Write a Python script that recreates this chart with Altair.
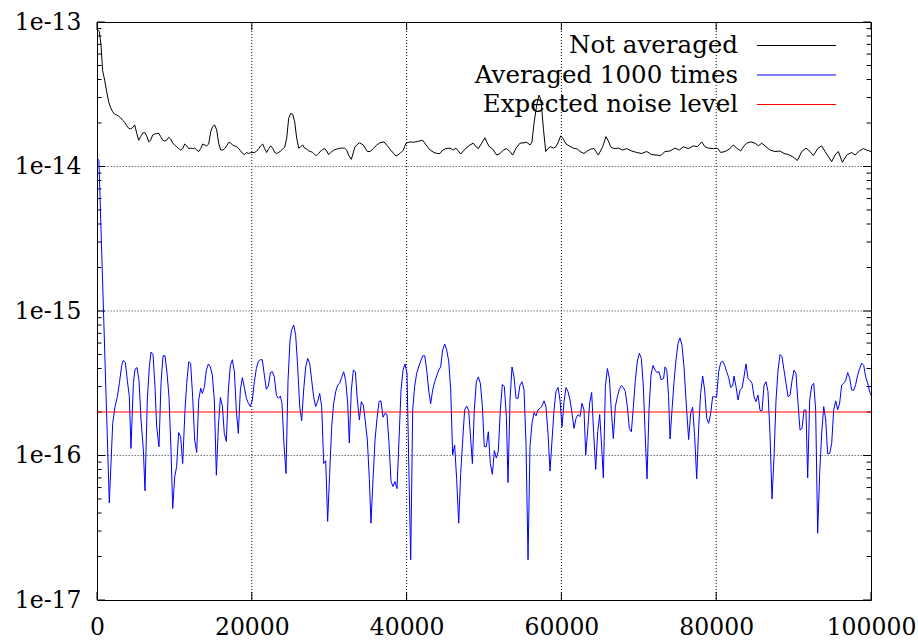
import altair as alt
import pandas as pd

# ---------------- data ----------------
X_BLUE = [
    0, 250, 1590, 2030, 2330, 2630, 2890, 3190, 3400, 3660,
    3920, 4180, 4390, 4700, 4910, 5170, 5430, 5690, 5990, 6200,
    6500, 6760, 6980, 7240, 7490, 7710, 8010, 8270, 8530, 8790,
    9050, 9300, 9560, 9780, 10040, 10290, 10550, 10810, 11070, 11370,
    11590, 11850, 12100, 12360, 12620, 12880, 13140, 13400, 13610, 13870,
    14130, 14390, 14640, 14900, 15160, 15420, 15680, 15940, 16200, 16450,
    16710, 16970, 17230, 17490, 17750, 18000, 18260, 18520, 18780, 19040,
    19300, 19550, 19810, 20070, 20330, 20590, 20850, 21100, 21360, 21620,
    21880, 22140, 22400, 22660, 22910, 23170, 23430, 23690, 23900, 24160,
    24420, 24680, 24940, 25150, 25410, 25670, 25930, 26190, 26440, 26700,
    26960, 27220, 27480, 27740, 27990, 28250, 28510, 28770, 29030, 29290,
    29550, 29800, 30060, 30320, 30580, 30840, 31100, 31350, 31610, 31870,
    32130, 32390, 32600, 32860, 33120, 33380, 33640, 33900, 34150, 34410,
    34670, 34930, 35190, 35400, 35660, 35920, 36180, 36440, 36690, 36950,
    37210, 37470, 37730, 37990, 38250, 38500, 38760, 39020, 39280, 39540,
    39800, 40050, 40270, 40530, 40790, 41040, 41300, 41560, 41820, 42080,
    42340, 42600, 42850, 43110, 43370, 43630, 43890, 44150, 44400, 44660,
    44920, 45180, 45440, 45700, 45950, 46210, 46470, 46730, 46990, 47250,
    47500, 47760, 48020, 48280, 48500, 48750, 49010, 49270, 49530, 49790,
    50040, 50300, 50560, 50820, 51080, 51340, 51590, 51850, 52110, 52370,
    52630, 52890, 53100, 53360, 53620, 53880, 54140, 54390, 54650, 54910,
    55170, 55430, 55690, 55940, 56200, 56460, 56720, 56980, 57240, 57500,
    57750, 58010, 58270, 58530, 58790, 59050, 59300, 59560, 59820, 60080,
    60340, 60600, 60850, 61110, 61370, 61630, 61890, 62150, 62410, 62660,
    62920, 63140, 63400, 63650, 63910, 64170, 64430, 64690, 64950, 65200,
    65420, 65680, 65940, 66200, 66450, 66710, 66970, 67230, 67490, 67750,
    68000, 68260, 68520, 68780, 69040, 69300, 69550, 69810, 70070, 70330,
    70590, 70850, 71060, 71320, 71580, 71840, 72100, 72350, 72610, 72870,
    73200, 73390, 73620, 73840, 74040, 74290, 74550, 74810, 75070, 75320,
    75580, 75840, 76100, 76440, 76700, 76960, 77220, 77480, 77740, 77990,
    78250, 78510, 78770, 79030, 79290, 79540, 79800, 80060, 80320, 80580,
    80840, 81100, 81350, 81610, 81870, 82130, 82300, 82560, 82820, 83080,
    83340, 83590, 83850, 84110, 84370, 84630, 84890, 85140, 85400, 85660,
    85920, 86180, 86440, 86690, 86950, 87210, 87470, 87730, 87990, 88250,
    88500, 88760, 89020, 89280, 89540, 89800, 90050, 90310, 90570, 90830,
    91090, 91350, 91600, 91820, 92080, 92340, 92600, 92850, 93110, 93370,
    93630, 93890, 94150, 94400, 94660, 94920, 95180, 95440, 95700, 95950,
    96210, 96470, 96730, 96990, 97250, 97500, 97760, 98020, 98280, 98540,
    98800, 99060, 99310, 99570, 99870, 100000,
]
# "Averaged 1000 times" in units of 1e-16
BLUE_E16 = [
    115, 110, 0.47, 1.67, 2.18, 2.55, 3.16, 4.2, 4.55, 4.4,
    3.3, 2.55, 1.12, 3.16, 3.95, 4.06, 3.3, 1.76, 1.09, 0.57,
    2.42, 4.1, 5.2, 5.0, 3.0, 1.58, 1.15, 3.16, 4.9, 4.9,
    3.7, 2.55, 1.09, 0.43, 0.71, 0.84, 1.44, 1.35, 0.88, 2.07,
    3.16, 4.45, 4.35, 2.55, 1.28, 1.05, 2.42, 2.92, 2.69, 2.96,
    3.9, 4.3, 4.1, 3.6, 2.42, 0.73, 1.58, 2.52, 2.2, 1.42,
    1.25, 2.84, 4.2, 4.6, 3.8, 2.07, 1.42, 2.84, 3.46, 2.96,
    2.49, 2.30, 2.18, 2.42, 3.24, 4.0, 4.5, 4.6, 4.6, 3.6,
    2.87, 3.03, 3.75, 3.8, 3.5, 2.62, 2.49, 2.58, 2.30, 1.2,
    0.75, 3.3, 6.3, 7.4, 8.0, 6.8, 4.1, 2.18, 1.74, 2.84,
    4.1, 4.7, 4.35, 3.3, 2.55, 2.18, 2.36, 2.69, 2.18, 0.88,
    0.92, 0.35, 0.75, 1.58, 2.30, 2.77, 3.07, 3.16, 3.47, 3.8,
    3.3, 2.30, 1.22, 2.84, 3.9, 3.8, 2.42, 1.76, 2.36, 2.23,
    1.71, 1.28, 0.68, 0.34, 0.68, 1.28, 1.81, 2.36, 2.39, 1.84,
    1.96, 1.92, 1.21, 0.66, 0.61, 0.66, 0.59, 1.28, 2.84, 3.9,
    4.3, 3.7, 0.93, 0.19, 2.07, 3.0, 3.7, 4.1, 4.5, 4.9,
    4.9, 3.9, 2.84, 2.28, 2.84, 3.24, 3.55, 3.9, 4.1, 5.37,
    5.9, 5.37, 4.5, 2.84, 1.01, 1.18, 0.68, 0.34, 0.75, 1.28,
    2.07, 2.20, 2.05, 1.3, 0.88, 2.07, 3.24, 3.5, 3.16, 2.18,
    1.15, 1.15, 1.46, 0.88, 0.74, 1.08, 0.96, 1.07, 2.07, 3.1,
    3.0, 1.86, 0.65, 2.42, 4.1, 3.5, 2.49, 2.49, 3.07, 3.24,
    2.84, 1.21, 0.19, 1.15, 1.67, 1.98, 1.88, 2.07, 2.12, 2.2,
    2.39, 2.18, 1.42, 0.78, 1.28, 2.07, 2.77, 2.96, 2.42, 1.58,
    2.36, 2.95, 2.77, 2.42, 1.96, 1.54, 1.81, 1.92, 1.86, 2.30,
    2.07, 1.01, 1.50, 2.30, 2.73, 1.42, 0.80, 1.46, 1.92, 1.15,
    0.70, 3.0, 4.0, 3.42, 2.07, 1.31, 2.18, 2.55, 2.87, 3.05,
    2.96, 2.77, 2.18, 1.54, 1.46, 2.18, 3.3, 4.5, 5.1, 4.7,
    3.0, 1.28, 0.69, 2.07, 3.6, 4.2, 3.9, 3.75, 3.8, 3.35,
    3.4, 4.1, 3.9, 2.6, 1.3, 2.07, 3.24, 4.6, 5.97, 6.5,
    5.8, 4.1, 2.42, 1.29, 1.96, 2.16, 1.35, 0.69, 1.58, 2.69,
    3.55, 2.84, 1.81, 1.67, 1.96, 2.55, 2.55, 2.55, 3.8, 4.4,
    4.5, 4.2, 3.8, 3.47, 2.96, 3.03, 3.55, 3.0, 2.42, 2.84,
    2.92, 3.5, 4.3, 3.42, 3.3, 3.16, 2.55, 2.36, 2.62, 2.05,
    2.04, 3.07, 3.24, 2.77, 1.42, 0.50, 0.98, 2.42, 3.9, 5.0,
    4.83, 3.9, 3.16, 2.55, 2.62, 3.3, 3.9, 3.7, 2.30, 1.50,
    1.54, 2.07, 2.05, 0.70, 2.42, 3.03, 3.16, 2.07, 0.29, 0.75,
    1.42, 2.18, 1.76, 1.03, 1.03, 1.21, 2.07, 2.39, 2.07, 2.30,
    3.07, 3.16, 3.3, 3.75, 3.42, 2.84, 2.82, 3.1, 3.6, 4.0,
    4.35, 4.2, 3.5, 3.16, 2.73, 2.6,
]

X_BLACK = [
    0, 300, 520, 730, 990, 1250, 1510, 1770, 2030, 2280,
    2540, 2800, 3060, 3320, 3580, 3830, 4090, 4350, 4610, 4870,
    5130, 5380, 5640, 5900, 6160, 6420, 6680, 6930, 7190, 7450,
    7710, 7970, 8230, 8490, 8740, 9000, 9260, 9520, 9780, 10040,
    10290, 10550, 10810, 11070, 11330, 11590, 11840, 12100, 12360, 12620,
    12880, 13140, 13400, 13650, 13910, 14170, 14430, 14690, 14950, 15200,
    15460, 15720, 15980, 16240, 16500, 16750, 17010, 17270, 17530, 17790,
    18050, 18300, 18560, 18820, 19080, 19340, 19600, 19860, 20110, 20370,
    20630, 20890, 21150, 21410, 21660, 21920, 22180, 22440, 22700, 22960,
    23210, 23470, 23730, 23990, 24250, 24510, 24760, 25020, 25280, 25540,
    25800, 26060, 26320, 26570, 26830, 27090, 27350, 27610, 27870, 28120,
    28380, 28640, 28900, 29160, 29420, 29670, 29930, 30190, 30450, 30710,
    30970, 31220, 31480, 31740, 32000, 32260, 32500, 32860, 33330, 33890,
    34410, 34930, 35270, 35700, 36130, 36560, 37080, 37510, 37940, 38630,
    39150, 39580, 39920, 40440, 40870, 41390, 42080, 42510, 43030, 43540,
    43970, 44320, 44660, 45090, 45610, 46040, 46380, 46690, 46990, 47330,
    47680, 48190, 48620, 48970, 49270, 49700, 50130, 50350, 50690, 51120,
    51640, 52070, 52500, 52930, 53360, 53710, 54140, 54650, 55170, 55520,
    55950, 56200, 56460, 56810, 57110, 57370, 57670, 57970, 58320, 58620,
    58960, 59310, 59610, 59910, 60250, 60600, 61110, 61550, 62060, 62410,
    62920, 63350, 63790, 64220, 64770, 65330, 65760, 66070, 66370, 66800,
    67360, 67920, 68430, 69080, 69730, 70370, 71020, 71660, 72310, 72830,
    73390, 74030, 74680, 75240, 75760, 76400, 77050, 77570, 78120, 78560,
    78990, 79630, 80150, 80580, 81140, 81700, 82220, 82650, 83160, 83590,
    83940, 84460, 85020, 85450, 85880, 86440, 86950, 87600, 88250, 88760,
    89320, 89880, 90490, 91050, 91610, 92120, 92550, 93110, 93630, 94060,
    94490, 94920, 95350, 95780, 96300, 96860, 97510, 97940, 98500, 99010,
    99440, 100000,
]
# "Not averaged" in units of 1e-14
BLACK_E14 = [
    8.9, 8.6, 6.9, 4.6, 3.96, 3.29, 2.8, 2.55, 2.39, 2.3,
    2.27, 2.23, 2.17, 2.09, 2.02, 1.92, 1.84, 1.82, 1.86, 1.94,
    1.70, 1.52, 1.61, 1.70, 1.72, 1.63, 1.48, 1.52, 1.65, 1.68,
    1.69, 1.70, 1.61, 1.52, 1.50, 1.52, 1.59, 1.55, 1.45, 1.41,
    1.37, 1.33, 1.30, 1.33, 1.43, 1.39, 1.33, 1.34, 1.33, 1.34,
    1.30, 1.27, 1.33, 1.43, 1.41, 1.39, 1.43, 1.74, 1.89, 1.94,
    1.79, 1.45, 1.30, 1.30, 1.33, 1.39, 1.47, 1.45, 1.41, 1.39,
    1.37, 1.33, 1.28, 1.23, 1.21, 1.25, 1.23, 1.25, 1.25, 1.25,
    1.28, 1.33, 1.39, 1.43, 1.33, 1.25, 1.33, 1.39, 1.34, 1.25,
    1.23, 1.25, 1.28, 1.32, 1.36, 1.57, 2.15, 2.33, 2.30, 2.04,
    1.57, 1.34, 1.37, 1.41, 1.34, 1.32, 1.28, 1.27, 1.25, 1.21,
    1.19, 1.23, 1.28, 1.31, 1.33, 1.28, 1.21, 1.25, 1.28, 1.31,
    1.32, 1.33, 1.34, 1.34, 1.34, 1.30, 1.20, 1.12, 1.37, 1.46,
    1.41, 1.27, 1.27, 1.33, 1.41, 1.46, 1.48, 1.39, 1.30, 1.18,
    1.23, 1.30, 1.45, 1.48, 1.47, 1.49, 1.52, 1.41, 1.30, 1.25,
    1.23, 1.23, 1.30, 1.33, 1.34, 1.30, 1.34, 1.28, 1.22, 1.28,
    1.34, 1.41, 1.45, 1.37, 1.33, 1.45, 1.58, 1.48, 1.37, 1.32,
    1.20, 1.23, 1.30, 1.33, 1.27, 1.20, 1.34, 1.45, 1.46, 1.47,
    1.41, 1.48, 1.99, 2.66, 3.12, 2.88, 1.84, 1.27, 1.34, 1.37,
    1.34, 1.37, 1.48, 1.63, 1.55, 1.43, 1.38, 1.34, 1.32, 1.27,
    1.23, 1.28, 1.32, 1.33, 1.20, 1.37, 1.61, 1.50, 1.37, 1.33,
    1.34, 1.30, 1.33, 1.28, 1.25, 1.23, 1.27, 1.21, 1.20, 1.19,
    1.27, 1.28, 1.34, 1.30, 1.37, 1.33, 1.39, 1.37, 1.48, 1.37,
    1.34, 1.33, 1.34, 1.25, 1.27, 1.32, 1.41, 1.34, 1.28, 1.39,
    1.45, 1.48, 1.45, 1.39, 1.45, 1.37, 1.30, 1.27, 1.28, 1.23,
    1.21, 1.17, 1.10, 1.27, 1.34, 1.27, 1.19, 1.33, 1.39, 1.27,
    1.17, 1.08, 1.20, 1.27, 1.07, 1.20, 1.25, 1.20, 1.28, 1.33,
    1.30, 1.27,
]

NOISE_LEVEL = 2e-16
X_TICKS = [0, 20000, 40000, 60000, 80000, 100000]
Y_TICKS = [1e-17, 1e-16, 1e-15, 1e-14, 1e-13]
X_GRID = [20000, 40000, 60000, 80000]
Y_GRID = [1e-16, 1e-15, 1e-14]
Y_MINOR = [m * 10.0 ** e for e in (-17, -16, -15, -14) for m in range(2, 10)]
LEGEND_LABELS = ["Not averaged", "Averaged 1000 times", "Expected noise level"]
LEGEND_COLORS = ["#000000", "#0000ff", "#ff0000"]

# ---------------- chart ----------------
W, H = 774, 578
FONT = "DejaVu Serif"
LABEL_SIZE = 23.5
LEGEND_SIZE = 24.5

xs = alt.Scale(domain=[0, 100000], nice=False, zero=False)
ys = alt.Scale(type="log", domain=[1e-17, 1e-13], nice=False)

x_axis = alt.Axis(values=X_TICKS, format="d", title=None, ticks=False, tickSize=0,
                  domain=False, grid=False, labelFlush=False, labelPadding=15,
                  labelFont=FONT, labelFontSize=LABEL_SIZE, labelColor="black")
y_axis = alt.Axis(values=Y_TICKS, format=".0e", title=None, ticks=False, tickSize=0,
                  domain=False, grid=False, labelFlush=False, labelPadding=16,
                  labelFont=FONT, labelFontSize=LABEL_SIZE, labelColor="black")

df_black = pd.DataFrame({"x": X_BLACK, "v": [m * 1e-14 for m in BLACK_E14]})
df_blue = pd.DataFrame({"x": X_BLUE, "v": [m * 1e-16 for m in BLUE_E16]})

grid_x = alt.Chart(pd.DataFrame({"x": X_GRID})).mark_rule(
    color="black", strokeWidth=1, strokeDash=[1, 2]
).encode(x=alt.X("x:Q", scale=xs, axis=x_axis))

grid_y = alt.Chart(pd.DataFrame({"v": Y_GRID})).mark_rule(
    color="#777777", strokeWidth=1, strokeDash=[1.5, 1.5]
).encode(y=alt.Y("v:Q", scale=ys, axis=y_axis))

df_xt = pd.DataFrame({"x": X_TICKS})
df_yt = pd.DataFrame({"v": Y_TICKS})
df_ym = pd.DataFrame({"v": Y_MINOR})

tick_rule = dict(color="black", strokeWidth=1)
xt_bottom = alt.Chart(df_xt).mark_rule(**tick_rule).encode(
    x=alt.X("x:Q", scale=xs), y=alt.value(H), y2=alt.value(H - 8))
xt_top = alt.Chart(df_xt).mark_rule(**tick_rule).encode(
    x=alt.X("x:Q", scale=xs), y=alt.value(0), y2=alt.value(8))
yt_left = alt.Chart(df_yt).mark_rule(**tick_rule).encode(
    y=alt.Y("v:Q", scale=ys), x=alt.value(0), x2=alt.value(8))
yt_right = alt.Chart(df_yt).mark_rule(**tick_rule).encode(
    y=alt.Y("v:Q", scale=ys), x=alt.value(W), x2=alt.value(W - 8))
ym_left = alt.Chart(df_ym).mark_rule(**tick_rule).encode(
    y=alt.Y("v:Q", scale=ys), x=alt.value(0), x2=alt.value(4.5))
ym_right = alt.Chart(df_ym).mark_rule(**tick_rule).encode(
    y=alt.Y("v:Q", scale=ys), x=alt.value(W), x2=alt.value(W - 4.5))

black_line = alt.Chart(df_black).mark_line(
    color=LEGEND_COLORS[0], strokeWidth=1, clip=True
).encode(x=alt.X("x:Q", scale=xs), y=alt.Y("v:Q", scale=ys))

blue_line = alt.Chart(df_blue).mark_line(
    color=LEGEND_COLORS[1], strokeWidth=1, clip=True
).encode(x=alt.X("x:Q", scale=xs), y=alt.Y("v:Q", scale=ys))

noise_line = alt.Chart(pd.DataFrame({"v": [NOISE_LEVEL]})).mark_rule(
    color=LEGEND_COLORS[2], strokeWidth=1
).encode(y=alt.Y("v:Q", scale=ys))

# gnuplot-style key: right-aligned text followed by a line sample
legend_layers = []
row_baselines = [31, 60.5, 90]
row_lines = [23.5, 53, 82.5]
for i, (lab, col) in enumerate(zip(LEGEND_LABELS, LEGEND_COLORS)):
    df_l = pd.DataFrame({"label": [lab]})
    legend_layers.append(
        alt.Chart(df_l).mark_text(
            align="right", baseline="alphabetic", font=FONT, fontSize=LEGEND_SIZE,
            color="black"
        ).encode(text="label:N", x=alt.value(641), y=alt.value(row_baselines[i]))
    )
    legend_layers.append(
        alt.Chart(df_l).mark_rule(color=col, strokeWidth=1).encode(
            x=alt.value(660), x2=alt.value(739), y=alt.value(row_lines[i]))
    )

chart = alt.layer(
    grid_x, grid_y,
    xt_bottom, xt_top, yt_left, yt_right, ym_left, ym_right,
    black_line, blue_line, noise_line,
    *legend_layers,
).properties(
    width=W, height=H,
    autosize=alt.AutoSizeParams(type="none"),
    padding={"left": 97, "top": 22, "right": 47, "bottom": 42},
    background="white",
).configure_view(
    stroke="black", strokeWidth=1, fill="white"
)

chart.save("out.html", embed_options={"renderer": "svg", "actions": False})
